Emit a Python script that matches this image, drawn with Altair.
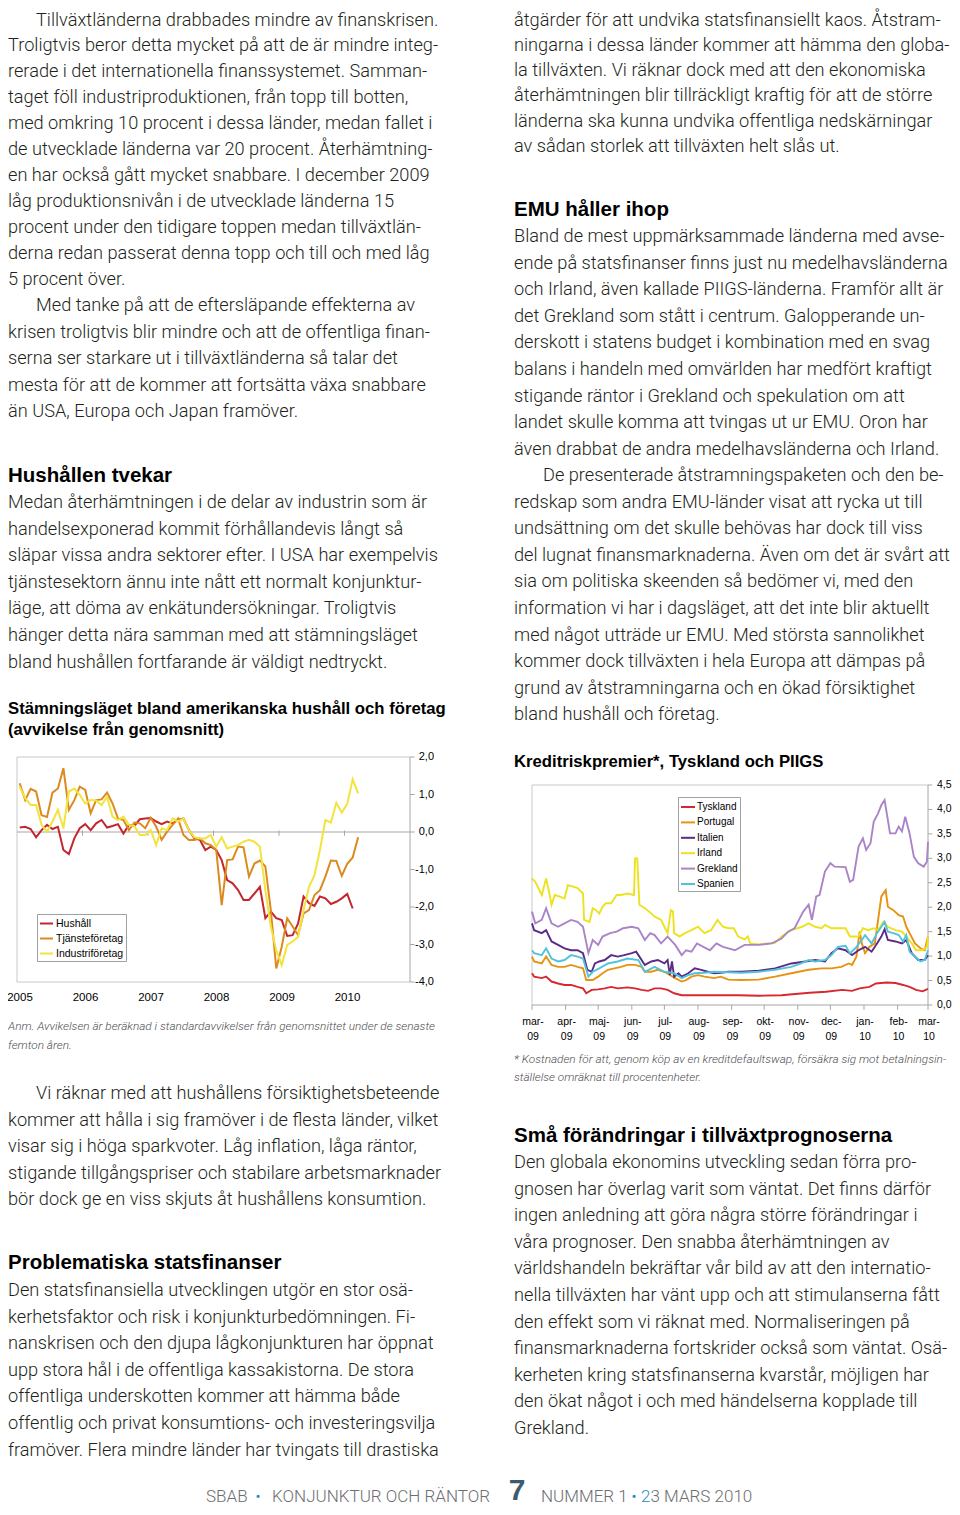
import altair as alt
import pandas as pd

# ------------------------------------------------------------------ chart 1 data
series1 = ["Hushåll", "Tjänsteföretag", "Industriföretag"]
colors1 = ["#c4262e", "#dc8a1f", "#f3e33b"]
hushall = [0.12, 0.14, 0.08, -0.14, 0.05, 0.19, 0.08, 0.14, -0.48, -0.59, -0.17, 0.10,
           0.21, 0.05, 0.23, 0.32, 0.12, 0.16, 0.21, -0.04, 0.19, 0.16, 0.34, 0.36,
           0.37, 0.28, 0.21, 0.28, 0.23, 0.32, 0.36, 0.05, -0.17, -0.21, -0.48, -0.39,
           -0.48, -0.75, -1.28, -1.37, -1.55, -1.81, -1.81, -1.64, -1.46, -2.30, -2.12, -2.30,
           -2.35, -2.77, -2.75, -2.44, -1.72, -1.90, -1.97, -1.72, -1.77, -1.92, -1.86, -1.77,
           -1.65, -2.04]
tjanste = [1.30, 0.85, 1.15, 1.08, 0.45, 0.40, 1.05, 1.16, 1.70, 0.59, 0.85, 1.21,
           1.12, 0.50, 0.85, 0.87, 1.05, 0.76, 0.36, 0.32, 0.05, 0.25, 0.23, 0.10,
           0.38, 0.14, -0.21, 0.01, 0.19, 0.36, -0.08, -0.21, -0.21, -0.17, -0.30, -0.35,
           -0.48, -1.95, -0.75, -0.73, -0.39, -0.41, -1.19, -0.84, -0.76, -0.92, -2.08, -3.64,
           -3.06, -2.30, -2.52, -2.75, -2.17, -2.08, -1.68, -1.55, -1.19, -0.76, -0.77, -1.17,
           -0.85, -0.68, -0.14]
industri = [1.20, 0.90, 0.72, 0.72, 0.19, 0.01, 0.28, 0.59, 0.10, 1.08, 1.16, 0.99,
            0.76, 0.85, 0.84, 0.72, 0.94, 0.41, 0.32, 0.41, 0.19, 0.16, -0.08, -0.08,
            0.05, -0.35, 0.10, 0.05, 0.36, 0.28, 0.36, 0.05, -0.14, -0.17, -0.17, -0.08,
            -0.39, -0.14, -0.44, -0.39, -0.35, -0.26, -0.21, -0.26, -0.39, -1.55, -2.52, -3.15,
            -3.55, -3.01, -2.92, -2.80, -2.08, -1.46, -1.15, -0.48, 0.32, 0.25, 0.78, 0.52,
            0.75, 1.40, 1.03]
years1 = [2005, 2006, 2007, 2008, 2009, 2010]
yvals1 = [-4, -3, -2, -1, 0, 1, 2]
ylabs1 = ["-4,0", "-3,0", "-2,0", "-1,0", "0,0", "1,0", "2,0"]

# ------------------------------------------------------------------ chart 2 data
series2 = ["Tyskland", "Portugal", "Italien", "Irland", "Grekland", "Spanien"]
colors2 = ["#d7282f", "#e8920f", "#5b2c83", "#ece21e", "#a985c8", "#52c3dc"]
tysk_day = [0, 2, 9, 13, 18, 24, 30, 36, 42, 47, 50, 55, 61, 67, 73, 79, 88, 95, 101, 107,
            113, 119, 125, 131, 138, 150, 162, 174, 190, 210, 230, 240, 256, 271, 286, 295, 302, 311, 317, 327,
            335, 342, 348, 354, 360, 365]
tysk_val = [0.65, 0.58, 0.55, 0.58, 0.48, 0.44, 0.41, 0.41, 0.37, 0.34, 0.24, 0.31, 0.32, 0.34, 0.37, 0.34, 0.36, 0.34, 0.31, 0.29,
            0.34, 0.34, 0.31, 0.24, 0.20, 0.20, 0.20, 0.20, 0.20, 0.19, 0.20, 0.22, 0.25, 0.27, 0.31, 0.29, 0.34, 0.37, 0.44, 0.46,
            0.45, 0.41, 0.37, 0.31, 0.28, 0.33]
port_day = [0, 2, 9, 13, 18, 24, 30, 36, 42, 47, 50, 56, 61, 65, 70, 76, 82, 88, 95, 101,
            104, 110, 116, 122, 132, 138, 142, 147, 153, 159, 168, 174, 181, 193, 209, 224, 239, 255, 267, 276,
            285, 292, 295, 299, 302, 304, 307, 311, 316, 319, 322, 326, 328, 333, 338, 342, 345, 348, 353, 358,
            362, 365]
port_val = [0.99, 0.89, 0.85, 0.99, 0.82, 0.78, 0.78, 0.82, 0.78, 0.75, 0.51, 0.51, 0.58, 0.65, 0.72, 0.75, 0.78, 0.82, 0.82, 0.78,
            0.68, 0.68, 0.72, 0.68, 0.55, 0.48, 0.51, 0.58, 0.61, 0.58, 0.55, 0.58, 0.52, 0.51, 0.52, 0.58, 0.65, 0.72, 0.75, 0.75,
            0.78, 0.85, 0.82, 0.99, 1.50, 1.26, 1.06, 1.19, 1.26, 1.74, 2.22, 2.35, 2.01, 1.94, 1.84, 1.81, 1.60, 1.47, 1.26, 1.16,
            1.12, 1.40]
ital_day = [0, 2, 9, 13, 18, 24, 30, 36, 42, 47, 51, 55, 58, 62, 67, 73, 79, 85, 92, 96,
            99, 104, 110, 116, 122, 125, 127, 129, 131, 135, 138, 144, 150, 156, 162, 168, 174, 181, 193, 209,
            224, 239, 252, 261, 270, 276, 282, 289, 295, 301, 307, 313, 318, 322, 325, 328, 335, 341, 345, 350,
            356, 362, 365]
ital_val = [1.67, 1.53, 1.47, 1.53, 1.30, 1.23, 1.16, 1.12, 1.12, 1.06, 0.72, 0.68, 0.85, 0.89, 0.92, 1.02, 0.99, 1.02, 1.06, 1.09,
            0.99, 0.82, 0.89, 0.92, 0.85, 0.92, 0.61, 0.89, 0.58, 0.65, 0.58, 0.65, 0.75, 0.72, 0.68, 0.65, 0.66, 0.68, 0.68, 0.70,
            0.75, 0.85, 0.89, 0.92, 0.89, 1.06, 1.16, 1.12, 1.02, 1.12, 1.19, 1.09, 1.26, 1.40, 1.55, 1.33, 1.30, 1.26, 1.33, 1.06,
            0.92, 0.92, 1.02]
irl_day = [0, 3, 9, 13, 16, 18, 21, 25, 30, 33, 38, 42, 47, 48, 53, 56, 59, 62, 65, 68,
           73, 78, 82, 88, 94, 95, 97, 99, 104, 108, 113, 119, 122, 125, 128, 130, 131, 136, 141, 147,
           153, 159, 165, 171, 176, 181, 186, 190, 196, 199, 201, 209, 218, 224, 230, 239, 249, 255, 261, 267,
           270, 276, 282, 289, 293, 301, 305, 310, 315, 319, 324, 328, 335, 341, 345, 350, 354, 360, 364, 365]
irl_val = [2.59, 2.52, 2.25, 2.59, 2.28, 2.05, 2.25, 2.22, 2.18, 2.45, 2.42, 2.39, 2.28, 1.74, 1.70, 1.98, 1.94, 1.87, 2.01, 2.08,
           2.08, 2.25, 2.25, 2.28, 2.25, 3.00, 3.00, 2.05, 1.98, 1.91, 1.81, 1.74, 1.60, 1.47, 1.94, 1.91, 1.47, 1.40, 1.47, 1.53,
           1.60, 1.47, 1.53, 1.74, 1.60, 1.57, 1.57, 1.40, 1.34, 1.40, 1.26, 1.24, 1.26, 1.27, 1.40, 1.53, 1.60, 1.67, 1.60, 1.57,
           1.64, 1.57, 1.57, 1.57, 1.40, 1.40, 1.57, 1.53, 1.57, 1.53, 1.70, 1.60, 1.53, 1.50, 1.40, 1.26, 1.12, 1.12, 1.19, 1.40]
grek_day = [0, 3, 9, 13, 18, 24, 30, 36, 42, 47, 52, 56, 61, 65, 72, 78, 84, 92, 98, 104,
            109, 113, 119, 125, 132, 138, 142, 147, 152, 158, 164, 170, 176, 181, 187, 196, 209, 221, 230, 236,
            242, 246, 250, 255, 258, 262, 265, 270, 275, 279, 289, 293, 296, 301, 305, 308, 312, 315, 319, 322,
            325, 327, 330, 335, 338, 341, 344, 348, 352, 356, 361, 364, 365]
grek_val = [1.91, 1.67, 1.74, 1.98, 1.67, 1.60, 1.67, 1.74, 1.70, 1.60, 1.06, 1.33, 1.23, 1.40, 1.47, 1.50, 1.57, 1.60, 1.57, 1.33,
            1.47, 1.43, 1.26, 1.40, 1.23, 1.02, 1.12, 1.09, 1.26, 1.19, 1.12, 1.26, 1.19, 1.16, 1.12, 1.23, 1.23, 1.26, 1.36, 1.50,
            1.57, 1.74, 1.91, 2.05, 1.74, 2.22, 2.25, 2.73, 2.90, 2.83, 2.82, 2.52, 2.56, 3.24, 3.41, 3.17, 3.31, 3.75, 3.92, 4.09,
            4.19, 3.92, 3.51, 3.51, 3.65, 3.55, 3.85, 3.51, 3.03, 2.90, 2.83, 2.93, 3.34]
span_day = [0, 2, 9, 13, 18, 24, 30, 36, 42, 47, 52, 56, 62, 70, 79, 88, 98, 104, 113, 122,
            131, 138, 144, 150, 159, 168, 181, 193, 209, 224, 239, 248, 255, 261, 270, 276, 282, 289, 293, 298,
            304, 307, 313, 318, 322, 325, 328, 333, 338, 342, 345, 348, 353, 358, 362, 365]
span_val = [1.12, 1.06, 1.02, 1.16, 0.95, 0.89, 0.92, 1.02, 0.99, 0.95, 0.58, 0.68, 0.75, 0.85, 0.89, 0.95, 0.92, 0.68, 0.78, 0.68,
            0.65, 0.55, 0.61, 0.65, 0.66, 0.68, 0.67, 0.66, 0.68, 0.72, 0.78, 0.85, 0.92, 0.89, 0.92, 1.02, 1.19, 1.21, 1.06, 1.16,
            1.33, 1.43, 1.26, 1.47, 1.60, 1.70, 1.50, 1.47, 1.43, 1.30, 1.43, 1.09, 0.99, 0.89, 0.92, 1.12]
months2 = ["mar-", "apr-", "maj-", "jun-", "jul-", "aug-", "sep-", "okt-", "nov-", "dec-", "jan-", "feb-", "mar-"]
myears2 = ["09", "09", "09", "09", "09", "09", "09", "09", "09", "09", "10", "10", "10"]
yvals2 = [0, 0.5, 1, 1.5, 2, 2.5, 3, 3.5, 4, 4.5]
ylabs2 = ["0,0", "0,5", "1,0", "1,5", "2,0", "2,5", "3,0", "3,5", "4,0", "4,5"]

# ------------------------------------------------------------------ page text
L_P1 = ["Tillväxtländerna drabbades mindre av finanskrisen.",
        "Troligtvis beror detta mycket på att de är mindre integ-",
        "rerade i det internationella finanssystemet. Samman-",
        "taget föll industriproduktionen, från topp till botten,",
        "med omkring 10 procent i dessa länder, medan fallet i",
        "de utvecklade länderna var 20 procent. Återhämtning-",
        "en har också gått mycket snabbare. I december 2009",
        "låg produktionsnivån i de utvecklade länderna 15",
        "procent under den tidigare toppen medan tillväxtlän-",
        "derna redan passerat denna topp och till och med låg",
        "5 procent över."]
L_P2 = ["Med tanke på att de eftersläpande effekterna av",
        "krisen troligtvis blir mindre och att de offentliga finan-",
        "serna ser starkare ut i tillväxtländerna så talar det",
        "mesta för att de kommer att fortsätta växa snabbare",
        "än USA, Europa och Japan framöver."]
L_H1 = "Hushållen tvekar"
L_P3 = ["Medan återhämtningen i de delar av industrin som är",
        "handelsexponerad kommit förhållandevis långt så",
        "släpar vissa andra sektorer efter. I USA har exempelvis",
        "tjänstesektorn ännu inte nått ett normalt konjunktur-",
        "läge, att döma av enkätundersökningar. Troligtvis",
        "hänger detta nära samman med att stämningsläget",
        "bland hushållen fortfarande är väldigt nedtryckt."]
C1_TITLE = ["Stämningsläget bland amerikanska hushåll och företag",
            "(avvikelse från genomsnitt)"]
C1_NOTE = ["Anm. Avvikelsen är beräknad i standardavvikelser från genomsnittet under de senaste",
           "femton åren."]
L_P4 = ["Vi räknar med att hushållens försiktighetsbeteende",
        "kommer att hålla i sig framöver i de flesta länder, vilket",
        "visar sig i höga sparkvoter. Låg inflation, låga räntor,",
        "stigande tillgångspriser och stabilare arbetsmarknader",
        "bör dock ge en viss skjuts åt hushållens konsumtion."]
L_H2 = "Problematiska statsfinanser"
L_P5 = ["Den statsfinansiella utvecklingen utgör en stor osä-",
        "kerhetsfaktor och risk i konjunkturbedömningen. Fi-",
        "nanskrisen och den djupa lågkonjunkturen har öppnat",
        "upp stora hål i de offentliga kassakistorna. De stora",
        "offentliga underskotten kommer att hämma både",
        "offentlig och privat konsumtions- och investeringsvilja",
        "framöver. Flera mindre länder har tvingats till drastiska"]
R_P1 = ["åtgärder för att undvika statsfinansiellt kaos. Åtstram-",
        "ningarna i dessa länder kommer att hämma den globa-",
        "la tillväxten. Vi räknar dock med att den ekonomiska",
        "återhämtningen blir tillräckligt kraftig för att de större",
        "länderna ska kunna undvika offentliga nedskärningar",
        "av sådan storlek att tillväxten helt slås ut."]
R_H1 = "EMU håller ihop"
R_P2 = ["Bland de mest uppmärksammade länderna med avse-",
        "ende på statsfinanser finns just nu medelhavsländerna",
        "och Irland, även kallade PIIGS-länderna. Framför allt är",
        "det Grekland som stått i centrum. Galopperande un-",
        "derskott i statens budget i kombination med en svag",
        "balans i handeln med omvärlden har medfört kraftigt",
        "stigande räntor i Grekland och spekulation om att",
        "landet skulle komma att tvingas ut ur EMU. Oron har",
        "även drabbat de andra medelhavsländerna och Irland."]
R_P3 = ["De presenterade åtstramningspaketen och den be-",
        "redskap som andra EMU-länder visat att rycka ut till",
        "undsättning om det skulle behövas har dock till viss",
        "del lugnat finansmarknaderna. Även om det är svårt att",
        "sia om politiska skeenden så bedömer vi, med den",
        "information vi har i dagsläget, att det inte blir aktuellt",
        "med något utträde ur EMU. Med största sannolikhet",
        "kommer dock tillväxten i hela Europa att dämpas på",
        "grund av åtstramningarna och en ökad försiktighet",
        "bland hushåll och företag."]
C2_TITLE = ["Kreditriskpremier*, Tyskland och PIIGS"]
C2_NOTE = ["* Kostnaden för att, genom köp av en kreditdefaultswap, försäkra sig mot betalningsin-",
           "ställelse omräknat till procentenheter."]
R_H2 = "Små förändringar i tillväxtprognoserna"
R_P4 = ["Den globala ekonomins utveckling sedan förra pro-",
        "gnosen har överlag varit som väntat. Det finns därför",
        "ingen anledning att göra några större förändringar i",
        "våra prognoser. Den snabba återhämtningen av",
        "världshandeln bekräftar vår bild av att den internatio-",
        "nella tillväxten har vänt upp och att stimulanserna fått",
        "den effekt som vi räknat med. Normaliseringen på",
        "finansmarknaderna fortskrider också som väntat. Osä-",
        "kerheten kring statsfinanserna kvarstår, möjligen har",
        "den ökat något i och med händelserna kopplade till",
        "Grekland."]
FOOT_L1, FOOT_L2 = "SBAB", "KONJUNKTUR OCH RÄNTOR"
FOOT_NUM = "7"
FOOT_R1, FOOT_R2a, FOOT_R2b = "NUMMER 1", "2", "3 MARS 2010"
BULLET = "•"

# ------------------------------------------------------------------ layout (view coords = page - 8)
M = 8
LX, RX, IND = 0, 514 - M, 28
LH = 26.6


def block(lines, x0, y0, lh, indent=0):
    return [{"text": t, "x": x0 + (indent if i == 0 else 0), "y": y0 - M + i * lh}
            for i, t in enumerate(lines)]


body_rows = (block(L_P1, LX, 20.5, 25.95, IND) + block(L_P2, LX, 306, LH, IND) +
             block(L_P3, LX, 503, LH) + block(L_P4, LX, 1094, LH, IND) +
             block(L_P5, LX, 1291, LH) + block(R_P1, RX, 20.5, 25.3) +
             block(R_P2, RX, 237, LH) + block(R_P3, RX, 476, LH, 29) +
             block(R_P4, RX, 1163, LH))
head_rows = (block([L_H1], LX, 476, 0) + block([L_H2], LX, 1263, 0) +
             block([R_H1], RX, 210, 0) + block([R_H2], RX, 1136, 0))
ctitle_rows = block(C1_TITLE, LX, 709, 21) + block(C2_TITLE, RX, 762, 0)
note_rows = block(C1_NOTE, LX, 1026, 19) + block(C2_NOTE, RX, 1059, 18)


def text_layer(rows, align="left", baseline="middle", **style):
    return alt.Chart(pd.DataFrame(rows)).mark_text(align=align, baseline=baseline, **style).encode(
        x=alt.X("x:Q", scale=None, axis=None),
        y=alt.Y("y:Q", scale=None, axis=None),
        text="text:N")


BODY = dict(font="Roboto", fontWeight=300, fontSize=18.2, color="#231f20")
layers = [
    text_layer(body_rows, **BODY),
    text_layer(head_rows, font="Liberation Sans", fontWeight="bold", fontSize=20.5, color="#000000"),
    text_layer(ctitle_rows, font="Liberation Sans", fontWeight="bold", fontSize=16.7, color="#000000"),
    text_layer(note_rows, font="Roboto", fontWeight=300, fontStyle="italic", fontSize=11.8, color="#4d4d4f"),
]
FOOT = dict(font="Roboto", fontWeight=300, fontSize=17, color="#6d6e71")
BLUE = "#2b8ac6"
fy = 1502 - M
layers += [
    text_layer([{"text": FOOT_L1, "x": 206 - M, "y": fy}], baseline="alphabetic", **FOOT),
    text_layer([{"text": FOOT_L2, "x": 490 - M, "y": fy}], align="right", baseline="alphabetic", **FOOT),
    text_layer([{"text": FOOT_R1, "x": 541 - M, "y": fy}], baseline="alphabetic", **FOOT),
    text_layer([{"text": FOOT_R2b, "x": 650.5 - M, "y": fy}], baseline="alphabetic", **FOOT),
    text_layer([{"text": FOOT_R2a, "x": 641 - M, "y": fy}], baseline="alphabetic",
               font="Roboto", fontWeight=300, fontSize=17, color=BLUE),
    text_layer([{"text": BULLET, "x": 258 - M, "y": fy}, {"text": BULLET, "x": 634 - M, "y": fy}],
               align="center", baseline="alphabetic", font="Roboto", fontSize=15, color=BLUE),
    text_layer([{"text": FOOT_NUM, "x": 517 - M, "y": 1500 - M}], align="center", baseline="alphabetic",
               font="Liberation Sans", fontWeight="bold", fontSize=30, color="#3c5a72"),
]

# ------------------------------------------------------------------ chart 1
X1 = alt.Scale(domain=[2005, 2011], range=[17 - M, 410 - M], nice=False, zero=False)
Y1 = alt.Scale(domain=[-4, 2], range=[982 - M, 757 - M], nice=False, zero=False)
rows1 = []
for name, vals in zip(series1, [hushall, tjanste, industri]):
    for m, v in enumerate(vals):
        rows1.append({"t": 2005 + (m + 0.5) / 12, "v": v, "s": name})
df1 = pd.DataFrame(rows1)

LIGHT, AXIS = "#c9c9c9", "#a6a6a6"


def rule_layer(rows, xs, ys, color):
    return alt.Chart(pd.DataFrame(rows)).mark_rule(color=color, strokeWidth=1).encode(
        x=alt.X("x:Q", scale=xs, axis=None), x2="x2:Q",
        y=alt.Y("y:Q", scale=ys, axis=None), y2="y2:Q")


frame1 = [{"x": 2005, "x2": 2005, "y": -4, "y2": 2},
          {"x": 2005, "x2": 2011, "y": 2, "y2": 2},
          {"x": 2005, "x2": 2011, "y": -4, "y2": -4}]
axis1 = ([{"x": 2005, "x2": 2011, "y": 0, "y2": 0}, {"x": 2011, "x2": 2011, "y": -4, "y2": 2}] +
         [{"x": 2011, "x2": 2011.07, "y": v, "y2": v} for v in yvals1] +
         [{"x": yr, "x2": yr, "y": 0.04, "y2": -0.1} for yr in years1[1:]])

lines1 = alt.Chart(df1).mark_line(strokeWidth=2).encode(
    x=alt.X("t:Q", scale=X1, axis=None),
    y=alt.Y("v:Q", scale=Y1, axis=None),
    color=alt.Color("s:N", scale=alt.Scale(domain=series1, range=colors1),
                    legend=alt.Legend(orient="none", legendX=37 - M, legendY=914 - M, title=None,
                                      symbolType="stroke", symbolSize=169, symbolStrokeWidth=2,
                                      labelFont="Liberation Sans", labelFontSize=10.5, labelColor="#000",
                                      labelOffset=2, padding=2, rowPadding=2, strokeColor="#a0a0a0",
                                      fillColor="white", labelLimit=200)),
    detail="s:N")
ylab1 = alt.Chart(pd.DataFrame({"x": [2011] * len(yvals1), "y": yvals1, "lab": ylabs1})).mark_text(
    align="right", baseline="middle", dx=24, font="Liberation Sans", fontSize=11, color="#000").encode(
    x=alt.X("x:Q", scale=X1, axis=None), y=alt.Y("y:Q", scale=Y1, axis=None), text="lab:N")
xlab1 = alt.Chart(pd.DataFrame({"x": years1, "y": [-4] * len(years1), "lab": [str(y) for y in years1]})).mark_text(
    align="center", baseline="middle", dx=3, dy=16, font="Liberation Sans", fontSize=11.5, color="#000").encode(
    x=alt.X("x:Q", scale=X1, axis=None), y=alt.Y("y:Q", scale=Y1, axis=None), text="lab:N")
chart1 = alt.layer(rule_layer(frame1, X1, Y1, LIGHT), rule_layer(axis1, X1, Y1, AXIS),
                   lines1, ylab1, xlab1)

# ------------------------------------------------------------------ chart 2
X2 = alt.Scale(domain=[0, 365], range=[532 - M, 928 - M], nice=False, zero=False)
Y2 = alt.Scale(domain=[0, 4.5], range=[1005 - M, 785 - M], nice=False, zero=False)
rows2 = []
for name, dd, vv in zip(series2,
                        [tysk_day, port_day, ital_day, irl_day, grek_day, span_day],
                        [tysk_val, port_val, ital_val, irl_val, grek_val, span_val]):
    for d, v in zip(dd, vv):
        rows2.append({"d": d, "v": v, "s": name})
df2 = pd.DataFrame(rows2)
start = pd.Timestamp("2009-03-01")
mdays = [(d - start).days for d in pd.date_range("2009-03-01", "2010-03-01", freq="MS")]

frame2 = [{"x": 0, "x2": 0, "y": 0, "y2": 4.5},
          {"x": 0, "x2": 365, "y": 4.5, "y2": 4.5}]
axis2 = ([{"x": 0, "x2": 365, "y": 0, "y2": 0}, {"x": 365, "x2": 365, "y": 0, "y2": 4.5}] +
         [{"x": 365, "x2": 369, "y": v, "y2": v} for v in yvals2] +
         [{"x": d, "x2": d, "y": 0, "y2": -0.1} for d in mdays])

lines2 = alt.Chart(df2).mark_line(strokeWidth=1.9).encode(
    x=alt.X("d:Q", scale=X2, axis=None),
    y=alt.Y("v:Q", scale=Y2, axis=None),
    color=alt.Color("s:N", scale=alt.Scale(domain=series2, range=colors2),
                    legend=alt.Legend(orient="none", legendX=678 - M, legendY=797 - M, title=None,
                                      symbolType="stroke", symbolSize=196, symbolStrokeWidth=2,
                                      labelFont="Liberation Sans", labelFontSize=10, labelColor="#000",
                                      labelOffset=1, padding=2, rowPadding=2.4, strokeColor="#a0a0a0",
                                      fillColor="white", labelLimit=200)),
    detail="s:N")
ylab2 = alt.Chart(pd.DataFrame({"x": [365] * len(yvals2), "y": yvals2, "lab": ylabs2})).mark_text(
    align="left", baseline="middle", dx=9, font="Liberation Sans", fontSize=10.5, color="#000").encode(
    x=alt.X("x:Q", scale=X2, axis=None), y=alt.Y("y:Q", scale=Y2, axis=None), text="lab:N")
mdf = pd.DataFrame({"x": mdays, "y": [0] * len(mdays), "m": months2, "yr": myears2})
xlab2a = alt.Chart(mdf).mark_text(align="center", baseline="middle", dx=1, dy=17,
                                  font="Liberation Sans", fontSize=10.5, color="#000").encode(
    x=alt.X("x:Q", scale=X2, axis=None), y=alt.Y("y:Q", scale=Y2, axis=None), text="m:N")
xlab2b = alt.Chart(mdf).mark_text(align="center", baseline="middle", dx=1, dy=32,
                                  font="Liberation Sans", fontSize=10.5, color="#000").encode(
    x=alt.X("x:Q", scale=X2, axis=None), y=alt.Y("y:Q", scale=Y2, axis=None), text="yr:N")
chart2 = alt.layer(rule_layer(frame2, X2, Y2, LIGHT), rule_layer(axis2, X2, Y2, AXIS),
                   lines2, ylab2, xlab2a, xlab2b)

# ------------------------------------------------------------------ page
chart = alt.layer(*layers, chart1, chart2).resolve_scale(
    x="independent", y="independent", color="independent"
).properties(width=960 - 2 * M, height=1515 - 2 * M, padding=0, autosize="none",
             background="white").configure_view(stroke=None)

chart.save("out.html", embed_options={"renderer": "svg", "actions": False})
